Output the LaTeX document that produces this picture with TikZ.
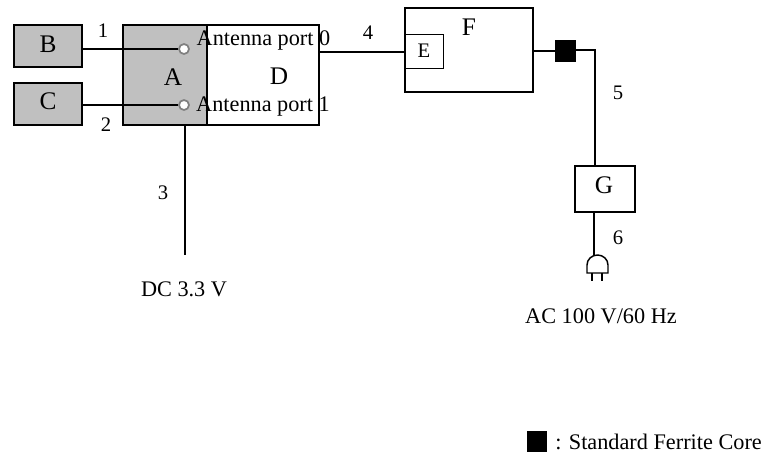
\documentclass[tikz,border=0pt]{standalone}
\usepackage{fontspec}
\setmainfont{Liberation Serif}
\usetikzlibrary{positioning, calc}
\definecolor{unitgray}{HTML}{C0C0C0}

\begin{document}
\begin{tikzpicture}[
  x=0.75pt, y=-0.75pt,
  box/.style={draw, line width=1.1pt, outer sep=0pt, inner sep=0pt, fill=white},
  graybox/.style={box, fill=unitgray},
  lbl/.style={inner sep=0pt, font=\fontsize{16.7}{18}\selectfont},
  numlbl/.style={inner sep=0pt, font=\fontsize{15.5}{17}\selectfont},
  biglbl/.style={inner sep=0pt, font=\fontsize{19}{21}\selectfont},
  port/.style={circle, draw=gray, line width=1.3pt, fill=white, inner sep=0pt, minimum size=7.5pt},
  wire/.style={line width=1.1pt},
  core/.style={fill=black, inner sep=0pt, outer sep=0pt},
]
\useasboundingbox (0,0) rectangle (768,458);

\node[graybox, minimum width=51pt, minimum height=31.5pt] (B) at (48,46) {};
\node[graybox, minimum width=51pt, minimum height=31.5pt] (C) at (48,104) {};
\node[graybox, minimum width=63pt, minimum height=75pt] (A) at (165,75) {};
\node[box, minimum width=84pt, minimum height=75pt, right=0pt of A] (D) {};
\node[box, minimum width=96pt, minimum height=63pt] (F) at (469,50) {};
\node[box, minimum width=29pt, minimum height=25pt, line width=0.9pt] (E) at (424.5,51.5) {};
\node[box, minimum width=45pt, minimum height=34.5pt] (G) at (605,189) {};
\node[core, minimum width=15.5pt, minimum height=16.5pt] (core) at (565.5,51) {};

\node[port] (p0) at (184,49) {};
\node[port] (p1) at (184,105) {};

\node[biglbl] (lA) at (173,77) {A};
\node[biglbl] (lB) at (48,44) {B};
\node[biglbl] (lC) at (48,101) {C};
\node[biglbl] (lD) at (279,76) {D};
\node[biglbl] (lF) at (469,27) {F};
\node[numlbl] (lE) at (424,51) {E};
\node[biglbl] (lG) at (604,185) {G};
\node[lbl] (ant0) at (263.5,40) {Antenna port 0};
\node[lbl] (ant1) at (263,107) {Antenna port 1};

\coordinate (dc) at (185,255);
\coordinate (bend) at (595,50);
\coordinate (plug) at (594,255);

\draw[wire] (B.east |- p0) -- (p0);
\draw[wire] (C.east |- p1) -- (p1);
\draw[wire] (dc |- A.south) -- (dc);
\draw[wire] (D.east |- 0,52) -- (E.west |- 0,52);
\draw[wire] (F.east |- core) -- (core);
\draw[wire] (core.east |- bend) -- (bend) -- (G.north -| bend);
\draw[wire] (G.south -| plug) -- (plug);

% plug
\draw[wire] (587,273) -- (587,265) arc[start angle=180, end angle=0, x radius=10.5, y radius=-10] -- (608,273) -- cycle;
\draw[wire] (592,273) -- (592,281);
\draw[wire] (602,273) -- (602,281);

\node[numlbl] (n1) at (103,31) {1};
\node[numlbl] (n2) at (106,125) {2};
\node[numlbl] (n3) at (163,193) {3};
\node[numlbl] (n4) at (368,33) {4};
\node[numlbl] (n5) at (618,93) {5};
\node[numlbl] (n6) at (618,238) {6};

\node[lbl] (dctxt) at (184,289) {DC 3.3 V};
\node[lbl] (actxt) at (601,316) {AC 100 V/60 Hz};

\node[core, minimum width=15pt, minimum height=15.5pt] (legcore) at (537,441.5) {};
\node[lbl, anchor=west] (legtxt) at (555,442) {: Standard Ferrite Core};
\end{tikzpicture}
\end{document}
